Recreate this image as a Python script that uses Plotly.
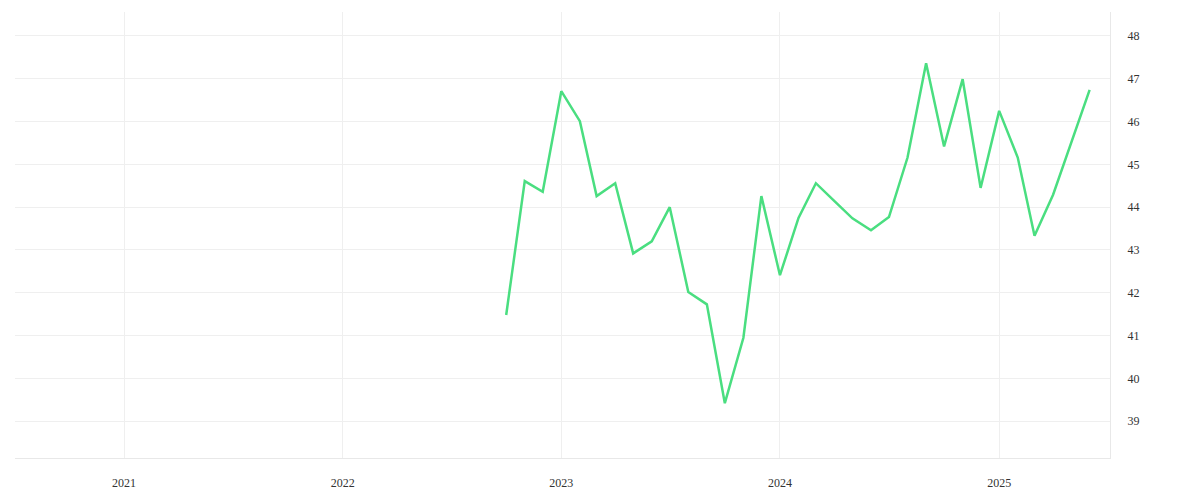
import plotly.graph_objects as go

months = [
    "2022-10-01", "2022-11-01", "2022-12-01",
    "2023-01-01", "2023-02-01", "2023-03-01", "2023-04-01", "2023-05-01", "2023-06-01",
    "2023-07-01", "2023-08-01", "2023-09-01", "2023-10-01", "2023-11-01", "2023-12-01",
    "2024-01-01", "2024-02-01", "2024-03-01", "2024-04-01", "2024-05-01", "2024-06-01",
    "2024-07-01", "2024-08-01", "2024-09-01", "2024-10-01", "2024-11-01", "2024-12-01",
    "2025-01-01", "2025-02-01", "2025-03-01", "2025-04-01", "2025-05-01", "2025-06-01",
]
values = [
    41.48, 44.61, 44.36,
    46.71, 46.01, 44.26, 44.56, 42.92, 43.20,
    44.00, 42.02, 41.73, 39.42, 40.95, 44.26,
    42.41, 43.75, 44.56, 44.14, 43.74, 43.46,
    43.77, 45.16, 47.36, 45.42, 46.99, 44.45,
    46.25, 45.16, 43.33, 44.29, 45.51, 46.74,
]
year_ticks = ["2021-01-01", "2022-01-01", "2023-01-01", "2024-01-01", "2025-01-01"]
year_labels = ["2021", "2022", "2023", "2024", "2025"]
y_ticks = [39, 40, 41, 42, 43, 44, 45, 46, 47, 48]

fig = go.Figure()
fig.add_trace(go.Scatter(
    x=months, y=values, mode="lines",
    line=dict(color="#4ade80", width=2.5),
    hoverinfo="x+y", showlegend=False,
))

fig.update_layout(
    width=1200, height=500,
    margin=dict(l=7, r=98, t=4, b=50),
    paper_bgcolor="white", plot_bgcolor="white",
    font=dict(family="Liberation Serif", size=12, color="#333333"),
    showlegend=False,
)
fig.update_xaxes(
    type="date",
    range=["2020-07-03", "2025-07-05"],
    tickvals=year_ticks, ticktext=year_labels,
    showgrid=True, gridcolor="#efefef", gridwidth=1,
    showline=True, linecolor="#e8e8e8", linewidth=1,
    zeroline=False, ticks="", ticklabelstandoff=14,
)
fig.update_yaxes(
    side="right",
    range=[38.14, 48.56],
    tickvals=y_ticks,
    showgrid=True, gridcolor="#efefef", gridwidth=1,
    showline=True, linecolor="#e8e8e8", linewidth=1,
    zeroline=False, ticks="", ticklabelstandoff=14,
)

fig.write_html("out.html")
